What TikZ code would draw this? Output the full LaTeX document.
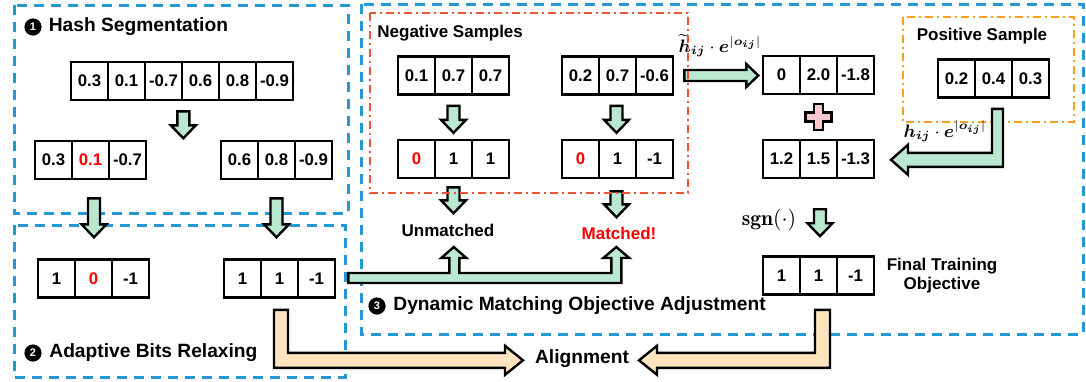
\documentclass[tikz,border=0pt]{standalone}
\usepackage{amsmath,bm}
\usepackage{fontspec}
\setsansfont{Liberation Sans}
\usetikzlibrary{calc,positioning}
\definecolor{boxblue}{RGB}{38,152,214}
\definecolor{boxred}{RGB}{238,84,50}
\definecolor{boxorange}{RGB}{246,160,30}
\definecolor{mint}{RGB}{187,232,208}
\definecolor{peach}{RGB}{253,228,190}
\definecolor{pinkplus}{RGB}{245,200,208}
\tikzset{
    cell/.style={draw, line width=1.3pt, minimum width=18.5pt, minimum height=19pt, inner sep=0pt, font=\sffamily\bfseries\fontsize{8.4}{9}\selectfont},
    garrow/.style={draw, line width=1.2pt, fill=mint},
    oarrow/.style={draw, line width=1.2pt, fill=peach},
    lbl/.style={inner sep=0pt, font=\sffamily\bfseries\fontsize{8.5}{9.5}\selectfont},
    title/.style={inner sep=0pt, anchor=west, font=\sffamily\bfseries\fontsize{9.6}{11}\selectfont},
    num/.style={circle, fill=black, text=white, inner sep=0pt, minimum size=8.6pt, font=\sffamily\bfseries\fontsize{5.5}{6}\selectfont},
    mth/.style={inner sep=0pt, font=\fontsize{8.8}{10}\selectfont},
    bluebox/.style={draw=boxblue, line width=1.5pt, dash pattern=on 5pt off 3.5pt},
    redbox/.style={draw=boxred, line width=1pt, dash pattern=on 4pt off 2pt on 1pt off 2pt},
    orbox/.style={draw=boxorange, line width=1pt, dash pattern=on 4pt off 2pt on 1pt off 2pt}
}
\newcommand{\hvec}[4]{%
    \foreach \v [count=\k] in {#4}
        \node[cell] (#1-\k) at (#2+37*\k-18.5, #3) {\v};
}
\newcommand{\dnarr}[2]{%
    \draw[garrow] #1 ++(-6,0) -- ++(12,0) -- ++(0,#2) -- ++(6.5,0) -- ++(-12.5,13) -- ++(-12.5,-13) -- ++(6.5,0) -- cycle;
}
\begin{document}
\begin{tikzpicture}[x=0.5pt, y=-0.5pt]
    \useasboundingbox (0,0) rectangle (1086,381);
    \draw[bluebox] (14,5) rectangle (348,213);
    \draw[bluebox] (14,225) rectangle (345,377);
    \draw[bluebox] (361,4) rectangle (1083,334);
    \draw[orbox] (903,17) rectangle (1074,122);

    \hvec{hs}{71}{81}{0.3,0.1,-0.7,0.6,0.8,-0.9}
    \hvec{segl}{35}{160}{0.3,\textcolor{red}{0.1},-0.7}
    \hvec{segr}{221}{160}{0.6,0.8,-0.9}
    \hvec{abl}{38}{278.5}{1,\textcolor{red}{0},-1}
    \hvec{abr}{224}{278.5}{1,1,-1}
    \hvec{neg1}{398}{75.5}{0.1,0.7,0.7}
    \hvec{neg2}{562}{75.5}{0.2,0.7,-0.6}
    \hvec{nb1}{398}{159}{\textcolor{red}{0},1,1}
    \hvec{nb2}{562}{159}{\textcolor{red}{0},1,-1}
    \hvec{sum1}{763}{75}{0,2.0,-1.8}
    \hvec{pos}{938}{78.5}{0.2,0.4,0.3}
    \hvec{sum2}{763}{159}{1.2,1.5,-1.3}
    \hvec{fin}{763}{275.5}{1,1,-1}

    \node[num] (n1) at (33,27) {1};
    \node[title, right=3.2pt of n1] (t1) {Hash Segmentation};
    \node[num] (n2) at (33,353) {2};
    \node[title, right=3.5pt of n2] (t2) {Adaptive Bits Relaxing};
    \node[num] (n3) at (377,306) {3};
    \node[title, right=3.5pt of n3] (t3) {Dynamic Matching Objective Adjustment};
    \node[lbl, anchor=west] (negt) at (377,33) {Negative Samples};
    \node[lbl] (post) at (982,36) {Positive Sample};
    \node[lbl] (um) at (448,230) {Unmatched};
    \node[lbl, text=red] (mt) at (619,233) {Matched!};
    \node[lbl, align=center] (fto) at (942,276) {Final Training\\Objective};
    \node[title, anchor=center] (al) at (582,359) {Alignment};
    \node[mth] (lt) at (720,46) {$\widetilde{\bm{h}}_{\bm{ij}}\cdot\bm{e}^{|\bm{o}_{\bm{ij}}|}$};
    \node[mth] (lp) at (945,131) {$\bm{h}_{\bm{ij}}\cdot\bm{e}^{|\bm{o}_{\bm{ij}}|}$};
    \node[mth, font=\fontsize{10.8}{12}\selectfont] (sg) at (769,220) {$\mathbf{sgn}(\cdot)$};

    \dnarr{($(hs-3.south east)+(0,10)$)}{14}
    \dnarr{($(segl-2.south)+(3.5,18)$)}{26}
    \dnarr{($(segr-2.south)+(0,18)$)}{26}
    \dnarr{($(neg1-2.south)+(0,10)$)}{14}
    \dnarr{($(neg2-2.south)+(-1,10)$)}{14}
    \dnarr{($(nb1-2.south)+(0,8)$)}{13}
    \dnarr{($(nb2-2.south)+(-1,12)$)}{13}
    \dnarr{($(fin-2.north)+(1.5,-46)$)}{14}

    \draw[garrow] ($(neg2-3.east)+(10,-5.5)$) -- ++(62,0) -- ++(0,-6) -- ++(12,11.5) -- ++(-12,11.5) -- ++(0,-6) -- ++(-62,0) -- cycle;
    \draw[redbox] (370,13) rectangle (688,193);
    \draw[garrow] ($(pos-2.south)+(-1.5,10)$) -- ++(11,0) -- ++(0,58) -- ++(-95,0) -- ++(0,8) -- ++(-17,-15) -- ++(17,-15) -- ++(0,8) -- ++(84,0) -- cycle;
    \draw[fill=pinkplus, line width=1.2pt] ($(sum1-2.south)!0.5!(sum2-2.north)$) ++(-4.5,-13) -- ++(9,0) -- ++(0,8.5) -- ++(8.5,0) -- ++(0,9) -- ++(-8.5,0) -- ++(0,8.5) -- ++(-9,0) -- ++(0,-8.5) -- ++(-8.5,0) -- ++(0,-9) -- ++(8.5,0) -- cycle;
    \draw[garrow] ($(abr-3.east)+(12,-5.5)$) -- ++(101,0) -- ++(0,-15) -- ++(-8,0) -- ++(12.5,-11) -- ++(12.5,11) -- ++(-7,0) -- ++(0,15) -- ++(152,0) -- ++(0,-15) -- ++(-8,0) -- ++(13,-11) -- ++(13,11) -- ++(-8,0) -- ++(0,25) -- ++(-273,0) -- cycle;
    \draw[oarrow] ($(abr-2.south)+(-5.5,11)$) -- ++(14,0) -- ++(0,43) -- ++(217,0) -- ++(0,-7) -- ++(18,14.5) -- ++(-18,14.5) -- ++(0,-7) -- ++(-231,0) -- cycle;
    \draw[oarrow] ($(fin-2.south)+(11.5,14)$) -- ++(-15,0) -- ++(0,43) -- ++(-158,0) -- ++(0,-7) -- ++(-18,14.5) -- ++(18,14.5) -- ++(0,-7) -- ++(173,0) -- cycle;
\end{tikzpicture}
\end{document}
